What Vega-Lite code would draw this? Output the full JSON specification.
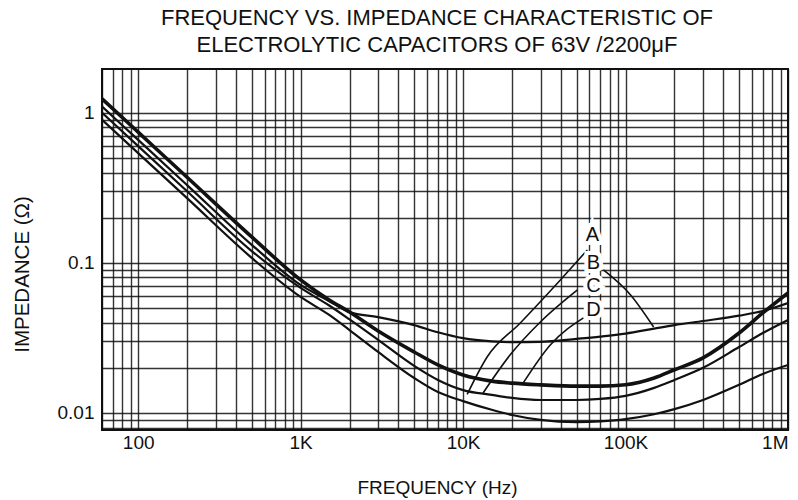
{
  "$schema": "https://vega.github.io/schema/vega-lite/v6.json",
  "width": 686,
  "height": 361,
  "autosize": {"type": "none"},
  "padding": {"left": 102, "top": 69, "right": 10, "bottom": 70},
  "background": "white",
  "config": {"view": {"stroke": "#111", "strokeWidth": 2}, "font": "Liberation Sans"},
  "title": {
    "text": ["FREQUENCY VS. IMPEDANCE CHARACTERISTIC OF", "ELECTROLYTIC CAPACITORS OF 63V /2200μF"],
    "fontSize": 22, "fontWeight": "normal", "color": "#111", "lineHeight": 27,
    "anchor": "middle", "dx": -8, "offset": 12, "font": "Liberation Sans"
  },
  "datasets": {
    "curves": [
      {"s": "T", "f": 60, "z": 1.24}, {"s": "T", "f": 100, "z": 0.744}, {"s": "T", "f": 200, "z": 0.372}, {"s": "T", "f": 500, "z": 0.149},
      {"s": "T", "f": 1000, "z": 0.077}, {"s": "T", "f": 1500, "z": 0.0566}, {"s": "T", "f": 2000, "z": 0.0471}, {"s": "T", "f": 3000, "z": 0.0352},
      {"s": "T", "f": 5000, "z": 0.0255}, {"s": "T", "f": 7000, "z": 0.0209}, {"s": "T", "f": 10000, "z": 0.0179}, {"s": "T", "f": 15000, "z": 0.0163},
      {"s": "T", "f": 20000, "z": 0.0158}, {"s": "T", "f": 30000, "z": 0.0154}, {"s": "T", "f": 50000, "z": 0.0151}, {"s": "T", "f": 70000, "z": 0.0151},
      {"s": "T", "f": 100000, "z": 0.0154}, {"s": "T", "f": 150000, "z": 0.0171}, {"s": "T", "f": 200000, "z": 0.0194}, {"s": "T", "f": 300000, "z": 0.0233},
      {"s": "T", "f": 500000, "z": 0.0341}, {"s": "T", "f": 700000, "z": 0.0464}, {"s": "T", "f": 1000000, "z": 0.0631},

      {"s": "B", "f": 60, "z": 1.1}, {"s": "B", "f": 100, "z": 0.66}, {"s": "B", "f": 200, "z": 0.33}, {"s": "B", "f": 500, "z": 0.132},
      {"s": "B", "f": 1000, "z": 0.0713}, {"s": "B", "f": 1500, "z": 0.0556}, {"s": "B", "f": 2000, "z": 0.047}, {"s": "B", "f": 3000, "z": 0.0435},
      {"s": "B", "f": 5000, "z": 0.0385}, {"s": "B", "f": 7000, "z": 0.0345}, {"s": "B", "f": 10000, "z": 0.0315}, {"s": "B", "f": 15000, "z": 0.03},
      {"s": "B", "f": 20000, "z": 0.0296}, {"s": "B", "f": 30000, "z": 0.0298}, {"s": "B", "f": 50000, "z": 0.0312}, {"s": "B", "f": 70000, "z": 0.0323},
      {"s": "B", "f": 100000, "z": 0.0338}, {"s": "B", "f": 150000, "z": 0.0365}, {"s": "B", "f": 200000, "z": 0.0385}, {"s": "B", "f": 300000, "z": 0.041},
      {"s": "B", "f": 500000, "z": 0.0445}, {"s": "B", "f": 700000, "z": 0.0478}, {"s": "B", "f": 1000000, "z": 0.054},

      {"s": "C", "f": 60, "z": 1.0}, {"s": "C", "f": 100, "z": 0.6}, {"s": "C", "f": 200, "z": 0.3}, {"s": "C", "f": 500, "z": 0.12},
      {"s": "C", "f": 1000, "z": 0.0681}, {"s": "C", "f": 1500, "z": 0.052}, {"s": "C", "f": 2000, "z": 0.042}, {"s": "C", "f": 3000, "z": 0.0307},
      {"s": "C", "f": 5000, "z": 0.0206}, {"s": "C", "f": 7000, "z": 0.0166}, {"s": "C", "f": 10000, "z": 0.0142}, {"s": "C", "f": 15000, "z": 0.0132},
      {"s": "C", "f": 20000, "z": 0.0126}, {"s": "C", "f": 30000, "z": 0.0122}, {"s": "C", "f": 50000, "z": 0.0122}, {"s": "C", "f": 70000, "z": 0.0124},
      {"s": "C", "f": 100000, "z": 0.013}, {"s": "C", "f": 150000, "z": 0.0147}, {"s": "C", "f": 200000, "z": 0.0166}, {"s": "C", "f": 300000, "z": 0.02},
      {"s": "C", "f": 500000, "z": 0.0275}, {"s": "C", "f": 700000, "z": 0.0341}, {"s": "C", "f": 1000000, "z": 0.0417},

      {"s": "D", "f": 60, "z": 0.898}, {"s": "D", "f": 100, "z": 0.539}, {"s": "D", "f": 200, "z": 0.27}, {"s": "D", "f": 500, "z": 0.108},
      {"s": "D", "f": 1000, "z": 0.0593}, {"s": "D", "f": 1500, "z": 0.045}, {"s": "D", "f": 2000, "z": 0.0357}, {"s": "D", "f": 3000, "z": 0.0255},
      {"s": "D", "f": 5000, "z": 0.0171}, {"s": "D", "f": 7000, "z": 0.0138}, {"s": "D", "f": 10000, "z": 0.012}, {"s": "D", "f": 15000, "z": 0.0105},
      {"s": "D", "f": 20000, "z": 0.0097}, {"s": "D", "f": 30000, "z": 0.009}, {"s": "D", "f": 50000, "z": 0.0087}, {"s": "D", "f": 70000, "z": 0.0088},
      {"s": "D", "f": 100000, "z": 0.0091}, {"s": "D", "f": 150000, "z": 0.0098}, {"s": "D", "f": 200000, "z": 0.0106}, {"s": "D", "f": 300000, "z": 0.0122},
      {"s": "D", "f": 500000, "z": 0.0154}, {"s": "D", "f": 700000, "z": 0.0182}, {"s": "D", "f": 1000000, "z": 0.0209}
    ],
    "leaders": [
      {"s": "A", "f": 58200, "z": 0.122}, {"s": "A", "f": 39700, "z": 0.077}, {"s": "A", "f": 22500, "z": 0.0398}, {"s": "A", "f": 14060, "z": 0.0236}, {"s": "A", "f": 10600, "z": 0.0133},
      {"s": "C", "f": 50600, "z": 0.0661}, {"s": "C", "f": 29900, "z": 0.0404}, {"s": "C", "f": 19500, "z": 0.0244}, {"s": "C", "f": 13280, "z": 0.0136},
      {"s": "D", "f": 55100, "z": 0.043}, {"s": "D", "f": 34400, "z": 0.0284}, {"s": "D", "f": 23400, "z": 0.0158},
      {"s": "B", "f": 73100, "z": 0.0898}, {"s": "B", "f": 107400, "z": 0.0612}, {"s": "B", "f": 148900, "z": 0.0374}
    ],
    "labels": [
      {"label": "A", "f": 62500, "z": 0.1537},
      {"label": "B", "f": 63400, "z": 0.1},
      {"label": "C", "f": 63400, "z": 0.0703},
      {"label": "D", "f": 63400, "z": 0.0486}
    ]
  },
  "encoding": {
    "x": {
      "field": "f", "type": "quantitative",
      "scale": {"type": "log", "domain": [59.9, 1000000], "nice": false},
      "axis": {
        "values": [60, 70, 80, 90, 100, 200, 300, 400, 500, 600, 700, 800, 900, 1000, 2000, 3000, 4000, 5000, 6000, 7000, 8000, 9000, 10000, 20000, 30000, 40000, 50000, 60000, 70000, 80000, 90000, 100000, 200000, 300000, 400000, 500000, 600000, 700000, 800000, 900000, 1000000],
        "labelExpr": "datum.value == 100 ? '100' : datum.value == 1000 ? '1K' : datum.value == 10000 ? '10K' : datum.value == 100000 ? '100K' : datum.value == 1000000 ? '1M' : ''",
        "grid": true, "gridColor": "#111", "gridWidth": 1.4, "gridOpacity": 0.85,
        "ticks": false, "domain": false,
        "labelFontSize": 19, "labelColor": "#111", "labelPadding": 3, "labelOverlap": false, "labelFlush": true, "labelFlushOffset": 0,
        "title": "FREQUENCY (Hz)", "titleFontSize": 19, "titleFontWeight": "normal", "titleColor": "#111",
        "titleX": 335, "titleY": 57, "titleBaseline": "middle", "titleAlign": "center"
      }
    },
    "y": {
      "field": "z", "type": "quantitative",
      "scale": {"type": "log", "domain": [0.0077, 1.96], "nice": false},
      "axis": {
        "values": [0.008, 0.009, 0.01, 0.02, 0.03, 0.04, 0.05, 0.06, 0.07, 0.08, 0.09, 0.1, 0.2, 0.3, 0.4, 0.5, 0.6, 0.7, 0.8, 0.9, 1],
        "labelExpr": "datum.value == 1 ? '1' : datum.value == 0.1 ? '0.1' : datum.value == 0.01 ? '0.01' : ''",
        "grid": true, "gridColor": "#111", "gridWidth": 1.4, "gridOpacity": 0.85,
        "ticks": false, "domain": false,
        "labelFontSize": 19, "labelColor": "#111", "labelPadding": 8, "labelOverlap": false, "labelFlush": false,
        "title": "IMPEDANCE (Ω)", "titleFontSize": 20.5, "titleFontWeight": "normal", "titleColor": "#111",
        "titleX": -80, "titleY": 205, "titleAngle": -90, "titleBaseline": "middle", "titleAlign": "center"
      }
    }
  },
  "layer": [
    {
      "data": {"name": "curves"},
      "transform": [{"filter": "datum.s != 'T'"}],
      "mark": {"type": "line", "interpolate": "monotone", "color": "#111", "strokeWidth": 2.2, "clip": true},
      "encoding": {"detail": {"field": "s", "type": "nominal"}}
    },
    {
      "data": {"name": "curves"},
      "transform": [{"filter": "datum.s == 'T'"}],
      "mark": {"type": "line", "interpolate": "monotone", "color": "#111", "strokeWidth": 3.6, "clip": true},
      "encoding": {}
    },
    {
      "data": {"name": "leaders"},
      "mark": {"type": "line", "interpolate": "monotone", "color": "#111", "strokeWidth": 1.6},
      "encoding": {"detail": {"field": "s", "type": "nominal"}}
    },
    {
      "data": {"name": "labels"},
      "mark": {"type": "text", "fontSize": 20, "stroke": "white", "strokeWidth": 8, "fill": "white", "align": "center", "baseline": "middle"},
      "encoding": {"text": {"field": "label"}}
    },
    {
      "data": {"name": "labels"},
      "mark": {"type": "text", "fontSize": 20, "color": "#111", "align": "center", "baseline": "middle"},
      "encoding": {"text": {"field": "label"}}
    }
  ]
}
